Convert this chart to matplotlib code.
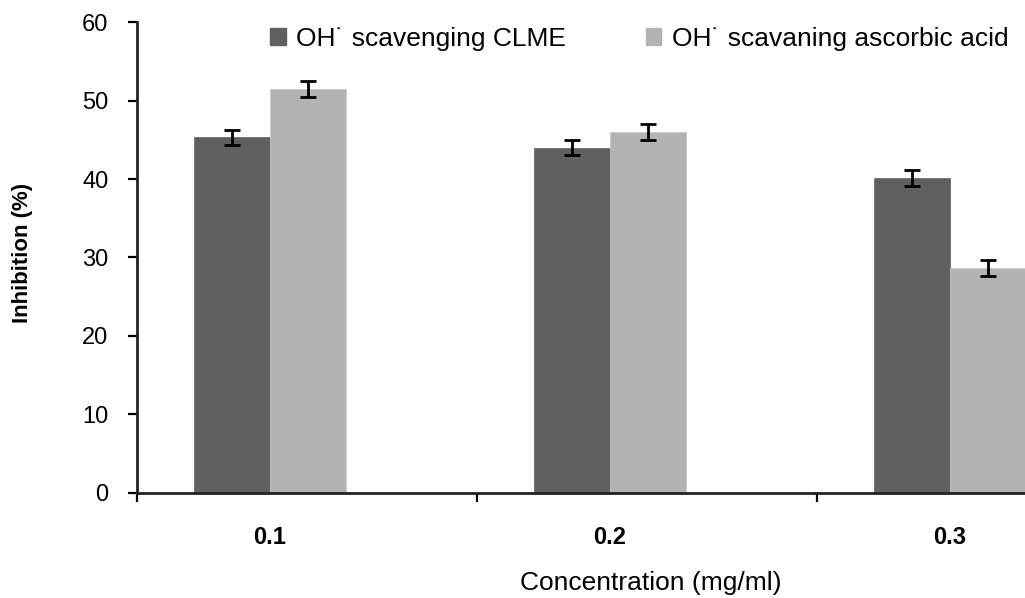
import matplotlib
matplotlib.use("Agg")
import matplotlib.pyplot as plt
import numpy as np
from matplotlib.patches import Patch

categories = ["0.1", "0.2", "0.3"]
clme = [45.3, 44.0, 40.1]
clme_err = [1.0, 1.0, 1.0]
ascorbic = [51.5, 46.0, 28.7]
ascorbic_err = [1.0, 1.0, 1.0]
series_names = ["OH\u02D9 scavenging CLME", "OH\u02D9 scavaning ascorbic acid"]
yticks = [0, 10, 20, 30, 40, 50, 60]

plt.rcParams['font.family'] = ['Liberation Sans', 'DejaVu Sans']

fig = plt.figure(figsize=(10.25, 5.98), dpi=100)
ax = fig.add_axes([0.1337, 0.1756, 1.0 - 0.1337, 0.7876])

x = np.arange(len(categories))
w = 0.2235
c1, c2 = "#606060", "#b3b3b3"
ax.bar(x - w / 2, clme, w, color=c1, edgecolor=c1, linewidth=0.5)
ax.bar(x + w / 2, ascorbic, w, color=c2, edgecolor="#c8c8c8", linewidth=0.5)
ek = dict(ecolor="black", elinewidth=2.0, capsize=6, capthick=2.0, fmt="none")
ax.errorbar(x - w / 2, clme, yerr=clme_err, **ek)
ax.errorbar(x + w / 2, ascorbic, yerr=ascorbic_err, **ek)

off = 0.391
ax.set_xlim(-off, 2.221)
ax.set_ylim(0, 60)
ax.set_yticks(yticks)
ax.set_yticklabels([str(v) for v in yticks], fontsize=17)
ax.set_xticks(x - off + 1e-6, minor=False)
ax.set_xticklabels(["", "", ""])
ax.set_xticks(x, minor=True)
ax.set_xticklabels(categories, minor=True, fontsize=17, fontweight="bold")
ax.tick_params(axis="x", which="minor", length=0, pad=24)
ax.tick_params(axis="x", which="major", length=6.5, width=1.6, direction="out")
ax.tick_params(axis="y", length=6.5, width=1.6, pad=14)

for s in ["top", "right"]:
    ax.spines[s].set_visible(False)
for s in ["left", "bottom"]:
    ax.spines[s].set_linewidth(2.0)
    ax.spines[s].set_color("#222222")

ax.set_ylabel("Inhibition (%)", fontsize=16, fontweight="bold")
ax.yaxis.set_label_coords(-0.117, 0.51)
ax.set_xlabel("Concentration (mg/ml)", fontsize=19)
ax.xaxis.set_label_coords(0.578, -0.165)

handles = [Patch(facecolor=c1, edgecolor=c1), Patch(facecolor=c2, edgecolor=c2)]
ax.legend(handles, series_names, ncol=2, frameon=False,
          prop=dict(size=19),
          loc="upper left", bbox_to_anchor=(0.123, 1.04),
          handlelength=0.6, handleheight=0.6, handletextpad=0.4, columnspacing=3.0)

fig.savefig("out.png", dpi=100)
